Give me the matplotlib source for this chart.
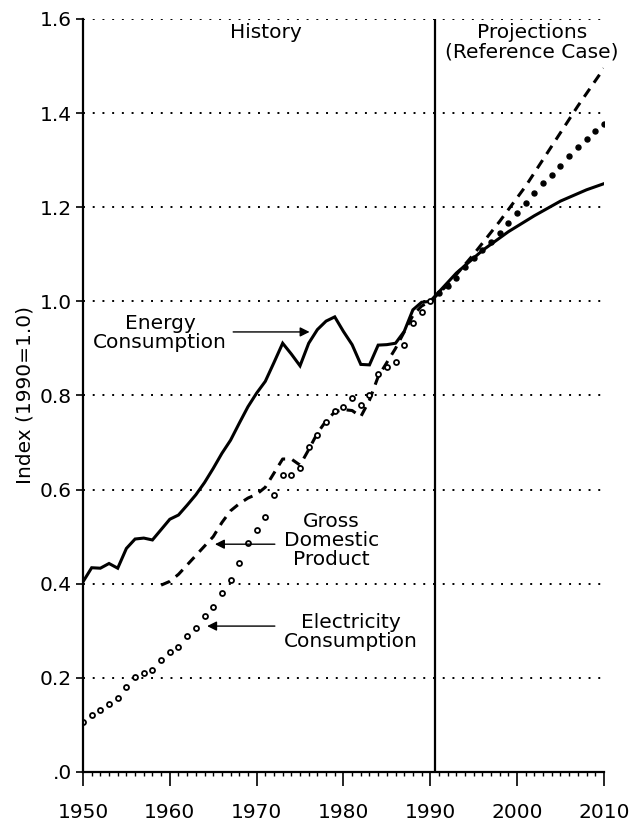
import matplotlib
matplotlib.use('Agg')
import matplotlib.pyplot as plt

# historical series, index 1990 = 1.0
years_hist = list(range(1950, 1991))
energy_hist = [0.404, 0.434, 0.433, 0.443, 0.433, 0.475, 0.495, 0.497, 0.493, 0.515,
               0.537, 0.546, 0.567, 0.589, 0.615, 0.645, 0.677, 0.705, 0.741, 0.776,
               0.805, 0.830, 0.870, 0.911, 0.888, 0.863, 0.911, 0.940, 0.958, 0.967,
               0.936, 0.908, 0.866, 0.865, 0.907, 0.908, 0.911, 0.936, 0.982, 0.998,
               1.000]
elec_hist = [0.107, 0.121, 0.132, 0.144, 0.157, 0.181, 0.201, 0.211, 0.217, 0.239,
             0.254, 0.266, 0.289, 0.307, 0.331, 0.351, 0.381, 0.408, 0.443, 0.486,
             0.514, 0.541, 0.589, 0.631, 0.631, 0.645, 0.690, 0.716, 0.744, 0.766,
             0.775, 0.794, 0.780, 0.800, 0.845, 0.860, 0.872, 0.907, 0.953, 0.978,
             1.000]
gdp_years_hist = list(range(1959, 1991))
gdp_hist = [0.397, 0.405, 0.420, 0.440, 0.460, 0.480, 0.500, 0.530, 0.555, 0.570,
            0.582, 0.590, 0.605, 0.635, 0.665, 0.665, 0.652, 0.685, 0.720, 0.746,
            0.765, 0.770, 0.768, 0.755, 0.790, 0.840, 0.870, 0.900, 0.935, 0.970,
            0.990, 1.000]

# projections (reference case)
energy_proj_years = [1990, 1993, 1996, 1999, 2002, 2005, 2008, 2010]
energy_proj = [1.000, 1.060, 1.108, 1.148, 1.182, 1.213, 1.237, 1.250]
gdp_proj_years = [1990, 1992, 1995, 1998, 2001, 2004, 2007, 2010]
gdp_proj = [1.000, 1.035, 1.100, 1.170, 1.245, 1.330, 1.415, 1.495]
elec_proj_years = list(range(1991, 2011))
elec_proj = [1.017, 1.033, 1.049, 1.072, 1.092, 1.109, 1.127, 1.146, 1.166, 1.187,
             1.210, 1.230, 1.251, 1.269, 1.288, 1.309, 1.327, 1.344, 1.361, 1.377]

ytick_vals = [0.0, 0.2, 0.4, 0.6, 0.8, 1.0, 1.2, 1.4, 1.6]
ytick_labels = ['.0', '0.2', '0.4', '0.6', '0.8', '1.0', '1.2', '1.4', '1.6']
xtick_vals = [1950, 1960, 1970, 1980, 1990, 2000, 2010]

fs = 14.5
fig = plt.figure(figsize=(6.33, 8.21), dpi=100)
ax = fig.add_axes([0.1311, 0.0597, 0.8229, 0.9172])

ax.plot(years_hist, energy_hist, color='black', lw=2.2, solid_joinstyle='miter')
ax.plot(energy_proj_years, energy_proj, color='black', lw=2.2)
ax.plot(gdp_years_hist, gdp_hist, color='black', lw=2.2, linestyle=(0, (3.2, 2.4)))
ax.plot(gdp_proj_years, gdp_proj, color='black', lw=2.2, linestyle=(0, (3.2, 2.4)))
ax.plot(years_hist, elec_hist, linestyle='none', marker='o', markersize=3.6,
        markerfacecolor='white', markeredgecolor='black', markeredgewidth=1.3)
ax.plot(elec_proj_years, elec_proj, linestyle='none', marker='o', markersize=3.6,
        markerfacecolor='black', markeredgecolor='black')

# history / projection divider
ax.axvline(1990.6, color='black', lw=1.6)

ax.set_xlim(1950, 2010)
ax.set_ylim(0, 1.6)
ax.set_yticks(ytick_vals)
ax.set_yticklabels(ytick_labels, fontsize=fs)
ax.set_xticks(xtick_vals)
ax.set_xticklabels([str(x) for x in xtick_vals], fontsize=fs)
ax.set_xticks(range(1950, 2011), minor=True)
ax.tick_params(axis='x', which='major', direction='out', length=10, width=1.2, pad=12)
ax.tick_params(axis='x', which='minor', direction='out', length=3, width=1.0)
ax.tick_params(axis='y', which='major', direction='out', length=5, width=1.2, pad=3)

ax.grid(axis='y', color='black', linestyle=(0, (1, 4)), lw=1.4)
ax.set_axisbelow(True)
for s in ['top', 'right']:
    ax.spines[s].set_visible(False)
for s in ['left', 'bottom']:
    ax.spines[s].set_linewidth(1.6)

ax.set_ylabel('Index (1990=1.0)', fontsize=fs, labelpad=4)

ax.text(1971.1, 1.572, 'History', fontsize=fs, ha='center', va='center')
ax.text(2001.7, 1.550, 'Projections\n(Reference Case)', fontsize=fs,
        ha='center', va='center', linespacing=1.0)
ax.text(1958.9, 0.933, 'Energy\nConsumption', fontsize=fs, ha='center',
        va='center', linespacing=1.0)
ax.text(1978.6, 0.491, 'Gross\nDomestic\nProduct', fontsize=fs, ha='center',
        va='center', linespacing=1.0)
ax.text(1980.9, 0.298, 'Electricity\nConsumption', fontsize=fs, ha='center',
        va='center', linespacing=1.0)

arrow = dict(arrowstyle='-|>', color='black', lw=1.0, mutation_scale=14,
             shrinkA=0, shrinkB=0)
ax.annotate('', xy=(1976.1, 0.935), xytext=(1967.3, 0.935), arrowprops=arrow)
ax.annotate('', xy=(1965.2, 0.484), xytext=(1972.1, 0.484), arrowprops=arrow)
ax.annotate('', xy=(1964.3, 0.310), xytext=(1972.1, 0.310), arrowprops=arrow)

fig.savefig('out.png', dpi=100)
